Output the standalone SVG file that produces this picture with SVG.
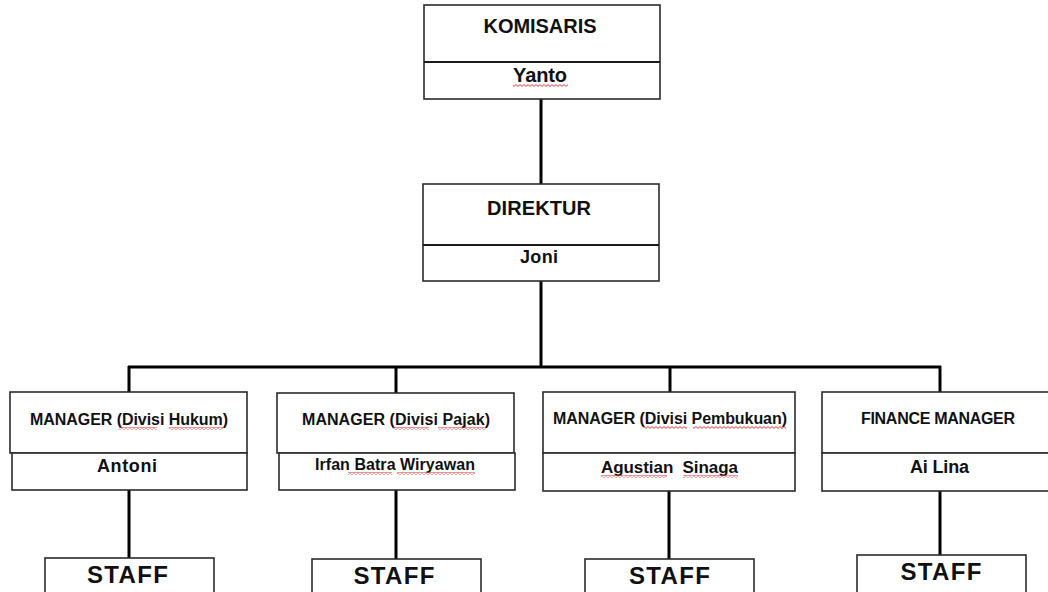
<svg xmlns="http://www.w3.org/2000/svg" width="1048" height="592" viewBox="0 0 1048 592">
<style>
.box{fill:#fff;stroke:#2b2b2b;stroke-width:1.6}
.div{stroke:#1a1a1a;stroke-width:2}
.con{stroke:#000;stroke-width:3;fill:none}
.t{font-family:"Liberation Sans",Arial,sans-serif;font-weight:bold;fill:#111;text-anchor:middle}
.sq{fill:url(#wave)}
</style>
<defs>
<pattern id="wave" width="4" height="3" patternUnits="userSpaceOnUse">
<path d="M0,0.6 L2,2.4 L4,0.6" fill="none" stroke="#e23a3a" stroke-width="1"/>
</pattern>
</defs>
<g id="connectors">
<line class="con" x1="541" y1="99" x2="541" y2="184"/>
<line class="con" x1="541" y1="281" x2="541" y2="367"/>
<line class="con" x1="128" y1="367" x2="941" y2="367"/>
<line class="con" x1="129" y1="366" x2="129" y2="392"/>
<line class="con" x1="396" y1="366" x2="396" y2="393"/>
<line class="con" x1="670" y1="366" x2="670" y2="392"/>
<line class="con" x1="940" y1="366" x2="940" y2="392"/>
<line class="con" x1="129" y1="490" x2="129" y2="558"/>
<line class="con" x1="396" y1="490" x2="396" y2="559"/>
<line class="con" x1="669" y1="491" x2="669" y2="559"/>
<line class="con" x1="940" y1="491" x2="940" y2="555"/>
</g>
<g id="komisaris">
<rect class="box" x="424" y="5" width="236" height="94"/>
<line class="div" x1="424" y1="62" x2="660" y2="62"/>
<text class="t" x="540" y="33" font-size="20" textLength="113">KOMISARIS</text>
<text class="t" x="540" y="82" font-size="20" textLength="54">Yanto</text>
<rect class="sq" x="513" y="84" width="55" height="3"/>
</g>
<g id="direktur">
<rect class="box" x="423" y="184" width="236" height="97"/>
<line class="div" x1="423" y1="245" x2="659" y2="245" stroke-width="1.5"/>
<text class="t" x="539" y="215" font-size="20" textLength="104">DIREKTUR</text>
<text class="t" x="539" y="263" font-size="18" textLength="38">Joni</text>
</g>
<g id="manager-hukum">
<rect class="box" x="10" y="392" width="237" height="61"/>
<rect class="box" x="12" y="453" width="235" height="37"/>
<text class="t" x="129" y="425" font-size="16" textLength="198">MANAGER (Divisi Hukum)</text>
<text class="t" x="127" y="472" font-size="18" textLength="60">Antoni</text>
<rect class="sq" x="119" y="427" width="38" height="3"/>
<rect class="sq" x="169" y="427" width="54" height="3"/>
</g>
<g id="manager-pajak">
<rect class="box" x="277" y="393" width="237" height="60"/>
<rect class="box" x="279" y="453" width="236" height="37"/>
<text class="t" x="396" y="425" font-size="16" textLength="188">MANAGER (Divisi Pajak)</text>
<text class="t" x="395" y="470" font-size="16" textLength="160">Irfan Batra Wiryawan</text>
<rect class="sq" x="393" y="427" width="36" height="3"/>
<rect class="sq" x="438" y="427" width="48" height="3"/>
<rect class="sq" x="348" y="472" width="44" height="3"/>
<rect class="sq" x="397" y="472" width="78" height="3"/>
</g>
<g id="manager-pembukuan">
<rect class="box" x="543" y="392" width="252" height="61"/>
<rect class="box" x="543" y="453" width="252" height="38"/>
<text class="t" x="670" y="424" font-size="16" textLength="234">MANAGER (Divisi Pembukuan)</text>
<text class="t" x="669.5" y="473" font-size="17" textLength="137" xml:space="preserve">Agustian  Sinaga</text>
<rect class="sq" x="643" y="426" width="44" height="3"/>
<rect class="sq" x="693" y="426" width="93" height="3"/>
<rect class="sq" x="601" y="475" width="66" height="3"/>
<rect class="sq" x="683" y="475" width="55" height="3"/>
</g>
<g id="finance-manager">
<rect class="box" x="822" y="392" width="230" height="61"/>
<rect class="box" x="822" y="453" width="230" height="38"/>
<text class="t" x="938" y="424" font-size="16" textLength="154">FINANCE MANAGER</text>
<text class="t" x="939.5" y="473" font-size="18" textLength="59">Ai Lina</text>
</g>
<g id="staff-1">
<rect class="box" x="45" y="558" width="169" height="44"/>
<text class="t" x="127.5" y="583" font-size="24" textLength="81">STAFF</text>
</g>
<g id="staff-2">
<rect class="box" x="312" y="559" width="169" height="44"/>
<text class="t" x="394" y="584" font-size="24" textLength="81">STAFF</text>
</g>
<g id="staff-3">
<rect class="box" x="585" y="559" width="169" height="44"/>
<text class="t" x="669.5" y="584" font-size="24" textLength="81">STAFF</text>
</g>
<g id="staff-4">
<rect class="box" x="857" y="555" width="169" height="44"/>
<text class="t" x="941" y="580" font-size="24" textLength="81">STAFF</text>
</g>
</svg>
